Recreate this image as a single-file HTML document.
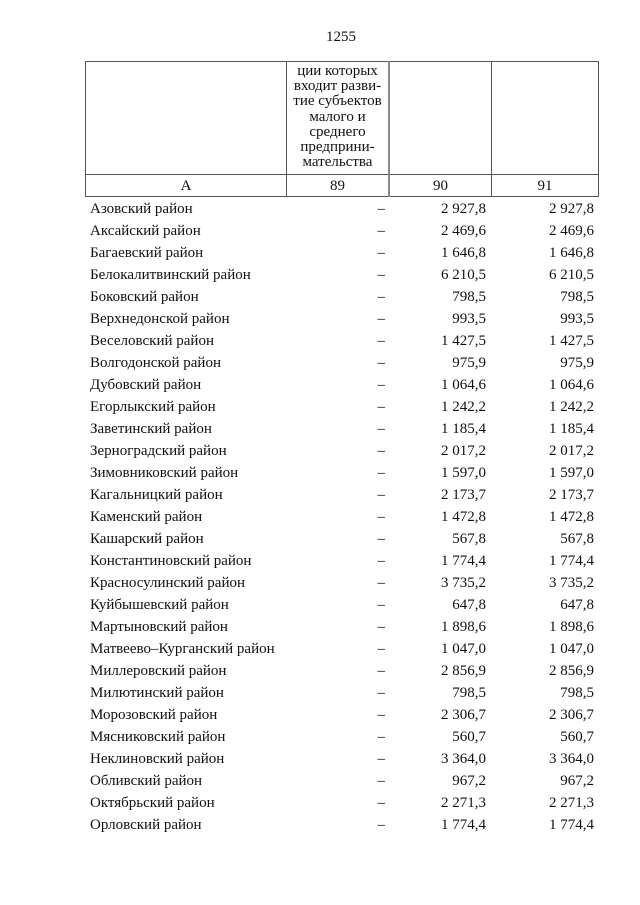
<!DOCTYPE html>
<html><head><meta charset="utf-8"><style>
body{margin:0;width:640px;height:905px;background:#fff;position:relative;font-family:"Liberation Serif","DejaVu Serif",serif;font-size:15px;color:#111;}
.a{position:absolute;white-space:nowrap;line-height:16px;}
.l{position:absolute;background:#555;}
.r{text-align:right;}
.c{text-align:center;}
</style></head><body>
<div class="a c" style="left:301px;width:80px;top:29px;">1255</div>
<div class="l" style="left:85px;top:61px;width:514px;height:1px"></div>
<div class="l" style="left:85px;top:174px;width:514px;height:1px"></div>
<div class="l" style="left:85px;top:196px;width:514px;height:1px"></div>
<div class="l" style="left:85px;top:61px;width:1px;height:136px"></div>
<div class="l" style="left:286px;top:61px;width:1px;height:136px"></div>
<div class="l" style="left:388px;top:61px;width:2px;height:136px;background:#888"></div>
<div class="l" style="left:491px;top:61px;width:1px;height:136px"></div>
<div class="l" style="left:598px;top:61px;width:1px;height:136px"></div>
<div class="a c" style="left:280px;width:115px;top:64px;line-height:15.2px;white-space:normal">ции которых<br>входит разви-<br>тие субъектов<br>малого и<br>среднего<br>предприни-<br>мательства</div>
<div class="a c" style="left:86px;width:200px;top:178px">А</div>
<div class="a c" style="left:287px;width:101px;top:178px">89</div>
<div class="a c" style="left:390px;width:101px;top:178px">90</div>
<div class="a c" style="left:492px;width:106px;top:178px">91</div>
<div id="rows"></div>
<script>
var d=[["Азовский район","2 927,8"],["Аксайский район","2 469,6"],["Багаевский район","1 646,8"],["Белокалитвинский район","6 210,5"],["Боковский район","798,5"],["Верхнедонской район","993,5"],["Веселовский район","1 427,5"],["Волгодонской район","975,9"],["Дубовский район","1 064,6"],["Егорлыкский район","1 242,2"],["Заветинский район","1 185,4"],["Зерноградский район","2 017,2"],["Зимовниковский район","1 597,0"],["Кагальницкий район","2 173,7"],["Каменский район","1 472,8"],["Кашарский район","567,8"],["Константиновский район","1 774,4"],["Красносулинский район","3 735,2"],["Куйбышевский район","647,8"],["Мартыновский район","1 898,6"],["Матвеево–Курганский район","1 047,0"],["Миллеровский район","2 856,9"],["Милютинский район","798,5"],["Морозовский район","2 306,7"],["Мясниковский район","560,7"],["Неклиновский район","3 364,0"],["Обливский район","967,2"],["Октябрьский район","2 271,3"],["Орловский район","1 774,4"]];
var h="";d.forEach(function(r,i){var t=201+i*22;
h+='<div class="a" style="left:90px;top:'+t+'px">'+r[0]+'</div>'+
'<div class="a r" style="left:340px;width:45px;top:'+t+'px">–</div>'+
'<div class="a r" style="left:400px;width:86px;top:'+t+'px">'+r[1]+'</div>'+
'<div class="a r" style="left:500px;width:94px;top:'+t+'px">'+r[1]+'</div>';});
document.getElementById("rows").innerHTML=h;
</script>
</body></html>
